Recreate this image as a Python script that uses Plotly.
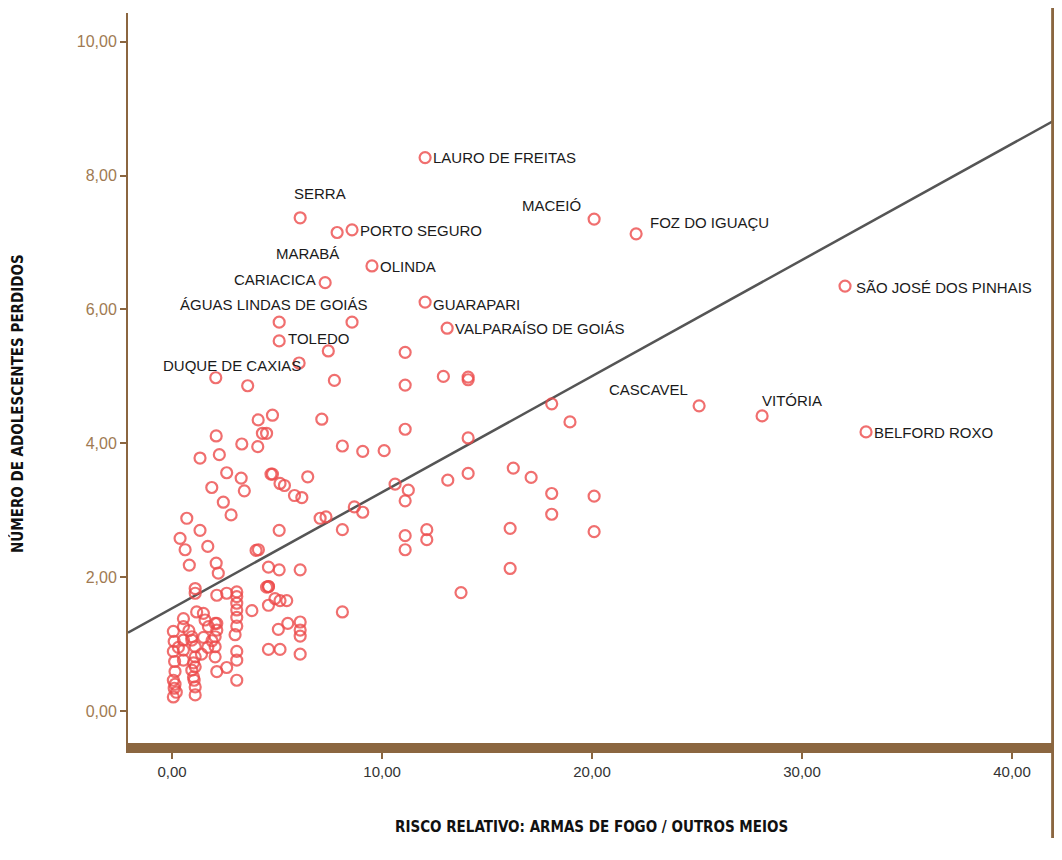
import plotly.graph_objects as go

# ---------------- data ----------------
# labelled municipalities
label_names = ["LAURO DE FREITAS", "SERRA", "PORTO SEGURO", "MARABÁ", "MACEIÓ",
               "FOZ DO IGUAÇU", "OLINDA", "CARIACICA", "ÁGUAS LINDAS DE GOIÁS",
               "GUARAPARI", "VALPARAÍSO DE GOIÁS", "TOLEDO", "DUQUE DE CAXIAS",
               "CASCAVEL", "VITÓRIA", "SÃO JOSÉ DOS PINHAIS", "BELFORD ROXO"]
label_x = [12.05, 6.10, 8.57, 7.86, 20.10, 22.10, 9.52, 7.29, 5.10,
           12.05, 13.10, 5.10, 6.05, 25.10, 28.10, 32.05, 33.05]
label_y = [8.27, 7.37, 7.19, 7.15, 7.35, 7.13, 6.65, 6.40, 5.81,
           6.11, 5.72, 5.53, 5.20, 4.56, 4.41, 6.35, 4.17]

# remaining municipalities
other_x = [8.57, 2.08, 3.60, 7.44, 7.73, 11.10, 11.10, 12.92, 14.10, 14.10,
           18.08, 18.95, 14.10, 11.10, 8.11, 9.08, 10.10, 7.13, 4.78, 4.50,
           4.10, 4.30, 3.32, 4.08, 2.10, 1.33, 2.25, 2.60, 3.29, 3.44,
           4.71, 1.89, 2.44, 2.81, 4.78, 5.14, 5.35, 6.46, 5.83, 6.18,
           10.62, 11.25, 11.10, 8.68, 9.08, 7.05, 7.33, 8.11, 5.10, 11.10,
           11.10, 16.25, 17.10, 13.13, 14.10, 18.08, 20.10, 18.08, 20.10, 16.10,
           12.13, 12.13, 16.10, 13.76, 0.70, 1.33, 0.38, 0.62, 1.70, 0.82,
           4.11, 4.00, 4.59, 2.10, 2.20, 4.59, 5.10, 6.10, 4.59, 4.90,
           5.14, 5.46, 4.59, 8.11, 5.06, 5.51, 6.10, 6.10, 6.10, 4.59,
           5.14, 6.10, 1.10, 1.10, 2.13, 2.60, 3.08, 3.08, 3.08, 3.08,
           3.08, 3.80, 4.50, 1.17, 1.49, 0.54, 0.54, 1.57, 1.73, 2.05,
           2.13, 3.00, 0.06, 0.10, 0.06, 0.12, 0.14, 0.06, 0.10, 0.06,
           0.54, 0.54, 0.54, 0.94, 1.10, 1.10, 1.10, 1.02, 1.10, 1.10,
           2.05, 2.05, 2.05, 2.13, 2.60, 3.08, 3.08, 3.08, 0.94, 0.94,
           1.05, 0.14, 0.20, 1.02, 2.13, 3.08, 1.50, 1.70, 1.40, 1.90,
           0.30, 0.80]
other_y = [5.81, 4.98, 4.86, 5.38, 4.94, 5.36, 4.87, 5.00, 4.99, 4.95,
           4.59, 4.32, 4.08, 4.21, 3.96, 3.88, 3.89, 4.36, 4.42, 4.15,
           4.35, 4.15, 3.99, 3.95, 4.11, 3.78, 3.83, 3.56, 3.48, 3.29,
           3.54, 3.34, 3.12, 2.93, 3.54, 3.40, 3.37, 3.50, 3.22, 3.19,
           3.39, 3.30, 3.14, 3.05, 2.97, 2.88, 2.90, 2.71, 2.70, 2.62,
           2.41, 3.63, 3.49, 3.45, 3.55, 3.25, 3.21, 2.94, 2.68, 2.73,
           2.71, 2.56, 2.13, 1.77, 2.88, 2.70, 2.58, 2.41, 2.46, 2.18,
           2.41, 2.40, 2.15, 2.21, 2.06, 1.86, 2.11, 2.11, 1.86, 1.68,
           1.65, 1.65, 1.58, 1.48, 1.22, 1.31, 1.33, 1.21, 1.12, 0.92,
           0.92, 0.85, 1.83, 1.76, 1.73, 1.76, 1.78, 1.71, 1.61, 1.51,
           1.40, 1.50, 1.85, 1.48, 1.46, 1.38, 1.26, 1.36, 1.26, 1.31,
           1.21, 1.14, 1.19, 1.04, 0.89, 0.74, 0.59, 0.46, 0.34, 0.21,
           1.06, 0.91, 0.76, 1.11, 0.96, 0.81, 0.66, 0.51, 0.36, 0.24,
           1.11, 0.96, 0.81, 0.59, 0.65, 0.89, 0.76, 0.46, 1.06, 0.61,
           0.46, 0.40, 0.28, 0.72, 1.31, 1.27, 1.10, 0.95, 0.85, 1.05,
           0.95, 1.20]

# fitted line endpoints
fit_x = [-2.10, 42.05]
fit_y = [1.17, 8.83]

x_ticks = [0, 10, 20, 30, 40]
y_ticks = [0, 2, 4, 6, 8, 10]
x_title = "RISCO RELATIVO: ARMAS DE FOGO / OUTROS MEIOS"
y_title = "NÚMERO DE ADOLESCENTES PERDIDOS"

# ---------------- styles ----------------
BROWN = "#8b6640"
TICK_BROWN = "#a07a52"
RED = "#ec4b4b"
LABEL_FONT = "Liberation Sans, Arial, sans-serif"
TITLE_FONT = "Liberation Sans Narrow, DejaVu Sans Condensed, Arial Narrow, sans-serif"

# label placement: (xanchor, xshift, yshift)
label_pos = {
    "LAURO DE FREITAS": ("left", 6, 0),
    "SERRA": ("center", 20, 24),
    "PORTO SEGURO": ("left", 6, -1),
    "MARABÁ": ("right", 4, -21),
    "MACEIÓ": ("right", -11, 14),
    "FOZ DO IGUAÇU": ("left", 12, 11),
    "OLINDA": ("left", 6, -1),
    "CARIACICA": ("right", -7, 3),
    "ÁGUAS LINDAS DE GOIÁS": ("center", -5, 18),
    "GUARAPARI": ("left", 6, -2),
    "VALPARAÍSO DE GOIÁS": ("left", 6, 0),
    "TOLEDO": ("left", 7, 2),
    "DUQUE DE CAXIAS": ("right", 4, -2),
    "CASCAVEL": ("right", -9, 16),
    "VITÓRIA": ("left", -2, 15),
    "SÃO JOSÉ DOS PINHAIS": ("left", 9, -1),
    "BELFORD ROXO": ("left", 6, -1),
}

fig = go.Figure()

fig.add_trace(go.Scatter(
    x=fit_x, y=fit_y, mode="lines",
    line=dict(color="#555555", width=2.5),
    hoverinfo="skip", showlegend=False))

fig.add_trace(go.Scatter(
    x=other_x + label_x, y=other_y + label_y, mode="markers",
    marker=dict(symbol="circle-open", size=11, color=RED,
                line=dict(width=2.2, color=RED), opacity=0.8),
    showlegend=False))

annotations = []
for name, lx, ly in zip(label_names, label_x, label_y):
    xa, xs, ys = label_pos[name]
    annotations.append(dict(
        x=lx, y=ly, xref="x", yref="y", text=name, showarrow=False,
        xanchor=xa, yanchor="middle", xshift=xs, yshift=ys,
        font=dict(family=LABEL_FONT, size=15, color="#1a1a1a")))

annotations.append(dict(
    x=0.5, y=0, xref="paper", yref="paper", text="<b>" + x_title + "</b>",
    showarrow=False, xanchor="center", yanchor="middle", yshift=-84,
    font=dict(family=TITLE_FONT, size=15, color="#111111")))
annotations.append(dict(
    x=0, y=0.5, xref="paper", yref="paper", text="<b>" + y_title + "</b>",
    showarrow=False, xanchor="center", yanchor="middle", xshift=-111, yshift=-26,
    textangle=-90,
    font=dict(family=TITLE_FONT, size=15, color="#111111")))

# the page body adds an 8px margin, so the figure is sized/placed to compensate
# (kept small enough that the page does not scroll)
fig.update_layout(
    width=1050, height=830,
    margin=dict(l=120, r=3, t=5, b=95),
    paper_bgcolor="white", plot_bgcolor="white",
    separators=",.",
    annotations=annotations,
    shapes=[dict(type="line", xref="paper", yref="paper",
                 x0=0.998, x1=0.998, y0=-0.2, y1=1.02,
                 line=dict(color=BROWN, width=4), layer="above")],
)

fig.update_xaxes(
    range=[-2.10, 42.05], tickvals=x_ticks, tickformat=".2f",
    showgrid=False, zeroline=False,
    showline=True, linecolor=BROWN, linewidth=10,
    ticks="outside", ticklen=6, tickwidth=2, tickcolor=BROWN,
    tickfont=dict(family=LABEL_FONT, size=15, color="#333333"),
)
fig.update_yaxes(
    range=[-0.478, 10.43], tickvals=y_ticks, tickformat=".2f",
    showgrid=False, zeroline=False,
    showline=True, linecolor=BROWN, linewidth=2,
    ticks="outside", ticklen=6, tickwidth=2, tickcolor=BROWN,
    tickfont=dict(family=LABEL_FONT, size=16, color=TICK_BROWN),
)

fig.write_html("out.html")
